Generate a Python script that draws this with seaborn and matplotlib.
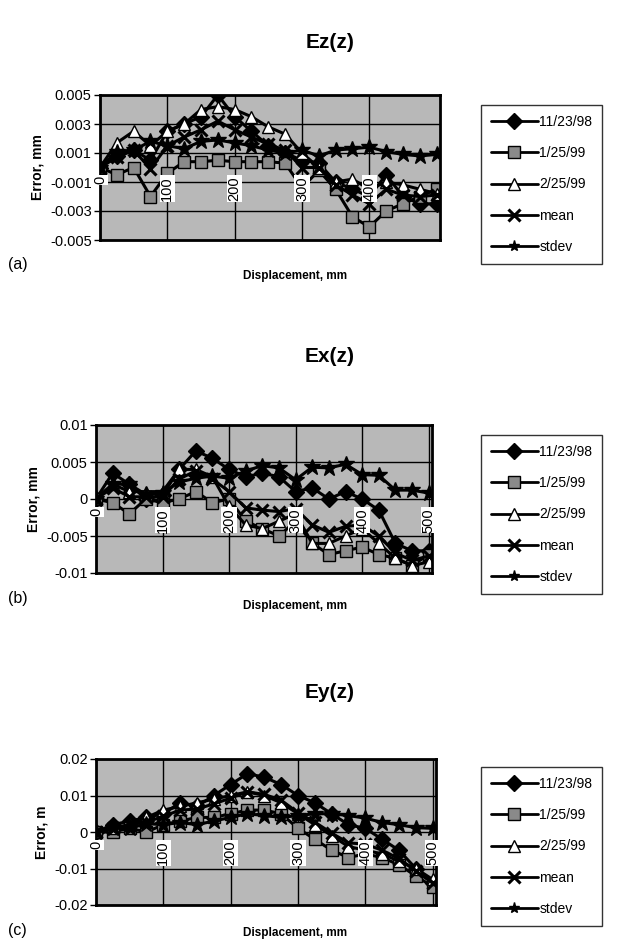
import numpy as np
import pandas as pd
import matplotlib
matplotlib.use("Agg")
import matplotlib.pyplot as plt
import seaborn as sns

sns.set_theme(style="white")
plt.rcParams['font.family'] = ['Liberation Sans', 'DejaVu Sans']
plt.rcParams.update({"text.color": "black", "axes.labelcolor": "black",
                     "xtick.color": "black", "ytick.color": "black"})

displacement = [0, 25, 50, 75, 100, 125, 150, 175, 200, 225, 250,
                275, 300, 325, 350, 375, 400, 425, 450, 475, 500]
series_names = ["11/23/98", "1/25/99", "2/25/99", "mean", "stdev"]

# Panel (a) Ez(z)
ez_1 = [0, 0.0008, 0.0012, 0.0005, 0.0025, 0.003, 0.0035, 0.005, 0.0035, 0.0025, 0.0015,
        0.001, 0.0005, 0.0003, -0.001, -0.0015, -0.002, -0.0005, -0.002, -0.0025, -0.0025]
ez_2 = [0, -0.0005, 0.0, -0.002, -0.0004, 0.0004, 0.0004, 0.0005, 0.0004, 0.0004, 0.0004,
        0.0003, -0.0014, -0.0002, -0.0015, -0.0034, -0.0041, -0.003, -0.0025, -0.002, -0.0015]
ez_3 = [0, 0.0017, 0.0025, 0.0015, 0.0025, 0.003, 0.004, 0.0042, 0.004, 0.0035, 0.0028,
        0.0023, 0.001, 0.0, -0.001, -0.0008, -0.0015, -0.001, -0.0012, -0.0015, -0.0018]
ez_mean = [0, 0.0007, 0.0012, -0.0001, 0.0015, 0.0021, 0.0026, 0.0032, 0.0026, 0.0021, 0.0016,
           0.0012, 0.0, 0.0, -0.0012, -0.0019, -0.0025, -0.0015, -0.0019, -0.002, -0.0019]
ez_std = [0, 0.0011, 0.0012, 0.0018, 0.0015, 0.0013, 0.0018, 0.0019, 0.0017, 0.0015, 0.0012,
          0.001, 0.0012, 0.0008, 0.0012, 0.0013, 0.0014, 0.0011, 0.0009, 0.0008, 0.0009]

# Panel (b) Ex(z)
ex_1 = [0, 0.0035, 0.002, 0.0, 0.0005, 0.004, 0.0065, 0.0055, 0.004, 0.003, 0.0035,
        0.003, 0.001, 0.0015, 0.0, 0.001, 0.0, -0.0015, -0.006, -0.007, -0.007]
ex_2 = [0, -0.0005, -0.002, 0.0, -0.0005, 0.0, 0.001, -0.0005, 0.0, -0.003, -0.004,
        -0.005, -0.003, -0.006, -0.0075, -0.007, -0.0065, -0.0075, -0.008, -0.009, -0.0075]
ex_3 = [0, 0.002, 0.001, 0.001, 0.001, 0.004, 0.004, 0.003, -0.001, -0.0035, -0.004,
        -0.003, -0.002, -0.006, -0.006, -0.005, -0.004, -0.006, -0.008, -0.009, -0.0085]
ex_mean = [0, 0.0015, 0.0003, 0.0003, 0.0003, 0.0027, 0.0038, 0.0027, 0.001, -0.0012, -0.0015,
           -0.0017, -0.0013, -0.0035, -0.0045, -0.0037, -0.0035, -0.005, -0.0073, -0.0083, -0.0077]
ex_std = [0, 0.002, 0.002, 0.0006, 0.0008, 0.0023, 0.0028, 0.0031, 0.0028, 0.0038, 0.0045,
          0.0042, 0.0026, 0.0043, 0.0042, 0.0047, 0.0033, 0.0032, 0.0012, 0.0012, 0.0008]

# Panel (c) Ey(z)
ey_1 = [0, 0.002, 0.003, 0.004, 0.005, 0.008, 0.007, 0.01, 0.013, 0.016, 0.015,
        0.013, 0.01, 0.008, 0.005, 0.002, 0.001, -0.002, -0.005, -0.01, -0.014]
ey_2 = [0, 0.0, 0.001, 0.0, 0.002, 0.003, 0.004, 0.004, 0.005, 0.006, 0.006,
        0.005, 0.001, -0.002, -0.005, -0.007, -0.006, -0.007, -0.009, -0.012, -0.015]
ey_3 = [0, 0.001, 0.002, 0.004, 0.006, 0.007, 0.008, 0.009, 0.01, 0.011, 0.01,
        0.008, 0.005, 0.002, -0.001, -0.004, -0.005, -0.006, -0.008, -0.01, -0.013]
ey_mean = [0, 0.001, 0.002, 0.0027, 0.0043, 0.006, 0.0063, 0.0077, 0.0093, 0.011, 0.0103,
           0.0087, 0.0053, 0.0027, -0.0003, -0.003, -0.0033, -0.005, -0.0073, -0.0107, -0.014]
ey_std = [0, 0.001, 0.001, 0.0023, 0.002, 0.0026, 0.002, 0.003, 0.004, 0.005, 0.0045,
          0.004, 0.0045, 0.005, 0.005, 0.0045, 0.0038, 0.0026, 0.002, 0.0012, 0.001]

panels = [
    dict(title="Ez(z)", tag="(a)", ylabel="Error, mm",
         data=[ez_1, ez_2, ez_3, ez_mean, ez_std],
         yticks=[-0.005, -0.003, -0.001, 0.001, 0.003, 0.005],
         yticklabels=["-0.005", "-0.003", "-0.001", "0.001", "0.003", "0.005"],
         ylim=(-0.005, 0.005), xticks=[0, 100, 200, 300, 400],
         rect=(100 / 631, 1 - 240 / 952, 340 / 631, 145 / 952),
         title_y=42, xlabel_y=276, tag_y=265, legend_top=105),
    dict(title="Ex(z)", tag="(b)", ylabel="Error, mm",
         data=[ex_1, ex_2, ex_3, ex_mean, ex_std],
         yticks=[-0.01, -0.005, 0, 0.005, 0.01],
         yticklabels=["-0.01", "-0.005", "0", "0.005", "0.01"],
         ylim=(-0.01, 0.01), xticks=[0, 100, 200, 300, 400, 500],
         rect=(96 / 631, 1 - 573 / 952, 336 / 631, 148 / 952),
         title_y=356, xlabel_y=606, tag_y=598, legend_top=435),
    dict(title="Ey(z)", tag="(c)", ylabel="Error, m",
         data=[ey_1, ey_2, ey_3, ey_mean, ey_std],
         yticks=[-0.02, -0.01, 0, 0.01, 0.02],
         yticklabels=["-0.02", "-0.01", "0", "0.01", "0.02"],
         ylim=(-0.02, 0.02), xticks=[0, 100, 200, 300, 400, 500],
         rect=(96 / 631, 1 - 905 / 952, 340 / 631, 146 / 952),
         title_y=692, xlabel_y=933, tag_y=930, legend_top=767),
]

markers = {"11/23/98": "D", "1/25/99": "s", "2/25/99": "^", "mean": "X", "stdev": "*"}
palette = {n: "black" for n in series_names}
face = {"11/23/98": "black", "1/25/99": "#8a8a8a", "2/25/99": "white", "mean": "black", "stdev": "black"}
msize = {"11/23/98": 8, "1/25/99": 8, "2/25/99": 8, "mean": 9, "stdev": 12}

fig = plt.figure(figsize=(6.31, 9.52), dpi=100)

for p in panels:
    ax = fig.add_axes(p["rect"])
    rows = []
    for name, vals in zip(series_names, p["data"]):
        for x, v in zip(displacement, vals):
            rows.append((x, v, name))
    df = pd.DataFrame(rows, columns=["disp", "err", "series"])
    ax.set_facecolor("#b8b8b8")
    sns.lineplot(data=df, x="disp", y="err", hue="series", style="series",
                 hue_order=series_names, style_order=series_names,
                 palette=palette, markers=markers, dashes=False, lw=2.2,
                 markersize=8, markeredgecolor="black", markeredgewidth=1,
                 ax=ax, legend=True, sort=False)
    for line, name in zip(ax.get_lines()[:5], series_names):
        line.set_markerfacecolor(face[name])
        line.set_markersize(msize[name])
        if name == "mean":
            line.set_marker("x")
            line.set_markeredgewidth(2.2)
    ax.set_xlim(0, 505)
    ax.set_ylim(*p["ylim"])
    ax.set_yticks(p["yticks"])
    ax.set_yticklabels(p["yticklabels"], fontsize=10.5)
    ax.set_xticks(p["xticks"])
    ax.set_xticklabels([])
    ax.tick_params(axis="y", length=4, width=1, color="black", direction="out", pad=2, left=True)
    ax.tick_params(axis="x", length=0)
    ax.grid(True, color="black", lw=1)
    ax.set_axisbelow(True)
    for s in ax.spines.values():
        s.set_color("black")
        s.set_linewidth(2)
    ax.set_xlabel("")
    ax.set_ylabel(p["ylabel"], fontsize=10, fontweight="bold", labelpad=4)
    for xt in p["xticks"]:
        ax.text(xt, p["ylim"][0] * 0.12, str(xt), rotation=90, ha="center", va="top",
                fontsize=10.5, zorder=10,
                bbox=dict(facecolor="white", edgecolor="none", pad=0.5))
    handles, labels = ax.get_legend_handles_labels()
    ax.legend_.remove()
    leg = ax.legend(handles, labels, loc="upper left",
                    bbox_to_anchor=(481 / 631, 1 - p["legend_top"] / 952),
                    bbox_transform=fig.transFigure, fontsize=10, frameon=True,
                    handlelength=3.4, labelspacing=1.25, borderpad=0.7,
                    handletextpad=0.1, fancybox=False, borderaxespad=0)
    leg.get_frame().set_edgecolor("black")
    leg.get_frame().set_linewidth(1)
    for h, name in zip(leg.legend_handles, series_names):
        h.set_markerfacecolor(face[name])
        h.set_markeredgecolor("black")
        h.set_color("black")
        h.set_linewidth(2)
        if name == "mean":
            h.set_marker("x")
            h.set_markeredgewidth(2.2)
    fig.text(330 / 631, 1 - p["title_y"] / 952, p["title"], ha="center", va="center",
             fontsize=15, fontweight="bold")
    fig.text(295 / 631, 1 - p["xlabel_y"] / 952, "Displacement, mm", ha="center",
             va="center", fontsize=8.5, fontweight="bold")
    fig.text(8 / 631, 1 - p["tag_y"] / 952, p["tag"], ha="left", va="center", fontsize=11.5)

fig.savefig("out.png", dpi=100, facecolor="white")
